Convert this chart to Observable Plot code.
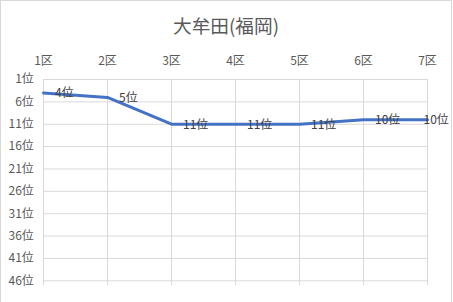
<!DOCTYPE html>
<html><head><meta charset="utf-8">
<script src="https://cdn.jsdelivr.net/npm/d3@7"></script>
<script src="https://cdn.jsdelivr.net/npm/@observablehq/plot@0.6"></script>
<style>
body{margin:0;background:#fff;}
#chart{position:relative;width:452px;height:303px;border:1px solid #d9d9d9;box-sizing:border-box;background:#fff;overflow:hidden;}
#title{height:31px;padding-top:12px;line-height:24px;font-size:18.67px;color:#595959;text-align:center;font-family:'Noto Sans CJK JP',sans-serif;}
#chart svg{display:block;}
</style></head>
<body>
<div id="chart"><div id="title">大牟田(福岡)</div></div>
<script>
const title = "大牟田(福岡)";
const sections = ["1区","2区","3区","4区","5区","6区","7区"];
const ranks = [4,5,11,11,11,10,10];
const yTicks = [1,6,11,16,21,26,31,36,41,46];

const data = sections.map((s,i)=>({section:s, rank:ranks[i]}));
const last = data.slice(-1);
const notLast = data.slice(0,-1);

const plot = Plot.plot({
  width:450, height:258,
  marginLeft:42.3, marginRight:23.7, marginTop:35, marginBottom:21.7,
  style:{fontFamily:"'Noto Sans CJK JP', sans-serif", fontSize:"12px", color:"#595959", background:"transparent"},
  x:{type:"point", domain:sections, padding:0, axis:"top", tickSize:0, tickPadding:14.5, label:null},
  y:{domain:[1,46], reverse:true, ticks:yTicks, tickFormat:d=>d+"位", tickSize:0, tickPadding:10, label:null},
  marks:[
    Plot.ruleY(yTicks,{stroke:"#d9d9d9", strokeWidth:1}),
    Plot.ruleX(sections,{x:d=>d, y1:1, y2:46, insetBottom:-5, stroke:"#d9d9d9", strokeWidth:1}),
    Plot.line(data,{x:"section", y:"rank", stroke:"#4472C4", strokeWidth:3, strokeLinejoin:"round", strokeLinecap:"round"}),
    Plot.text(notLast,{x:"section", y:"rank", text:d=>d.rank+"位", textAnchor:"start", dx:11.5, dy:0.5, fill:"#404040", fontSize:12}),
    Plot.text(last,{x:"section", y:"rank", text:d=>d.rank+"位", textAnchor:"start", dx:-4, dy:0.5, fill:"#404040", fontSize:12})
  ]
});
document.getElementById("chart").appendChild(plot);
</script>
</body></html>
